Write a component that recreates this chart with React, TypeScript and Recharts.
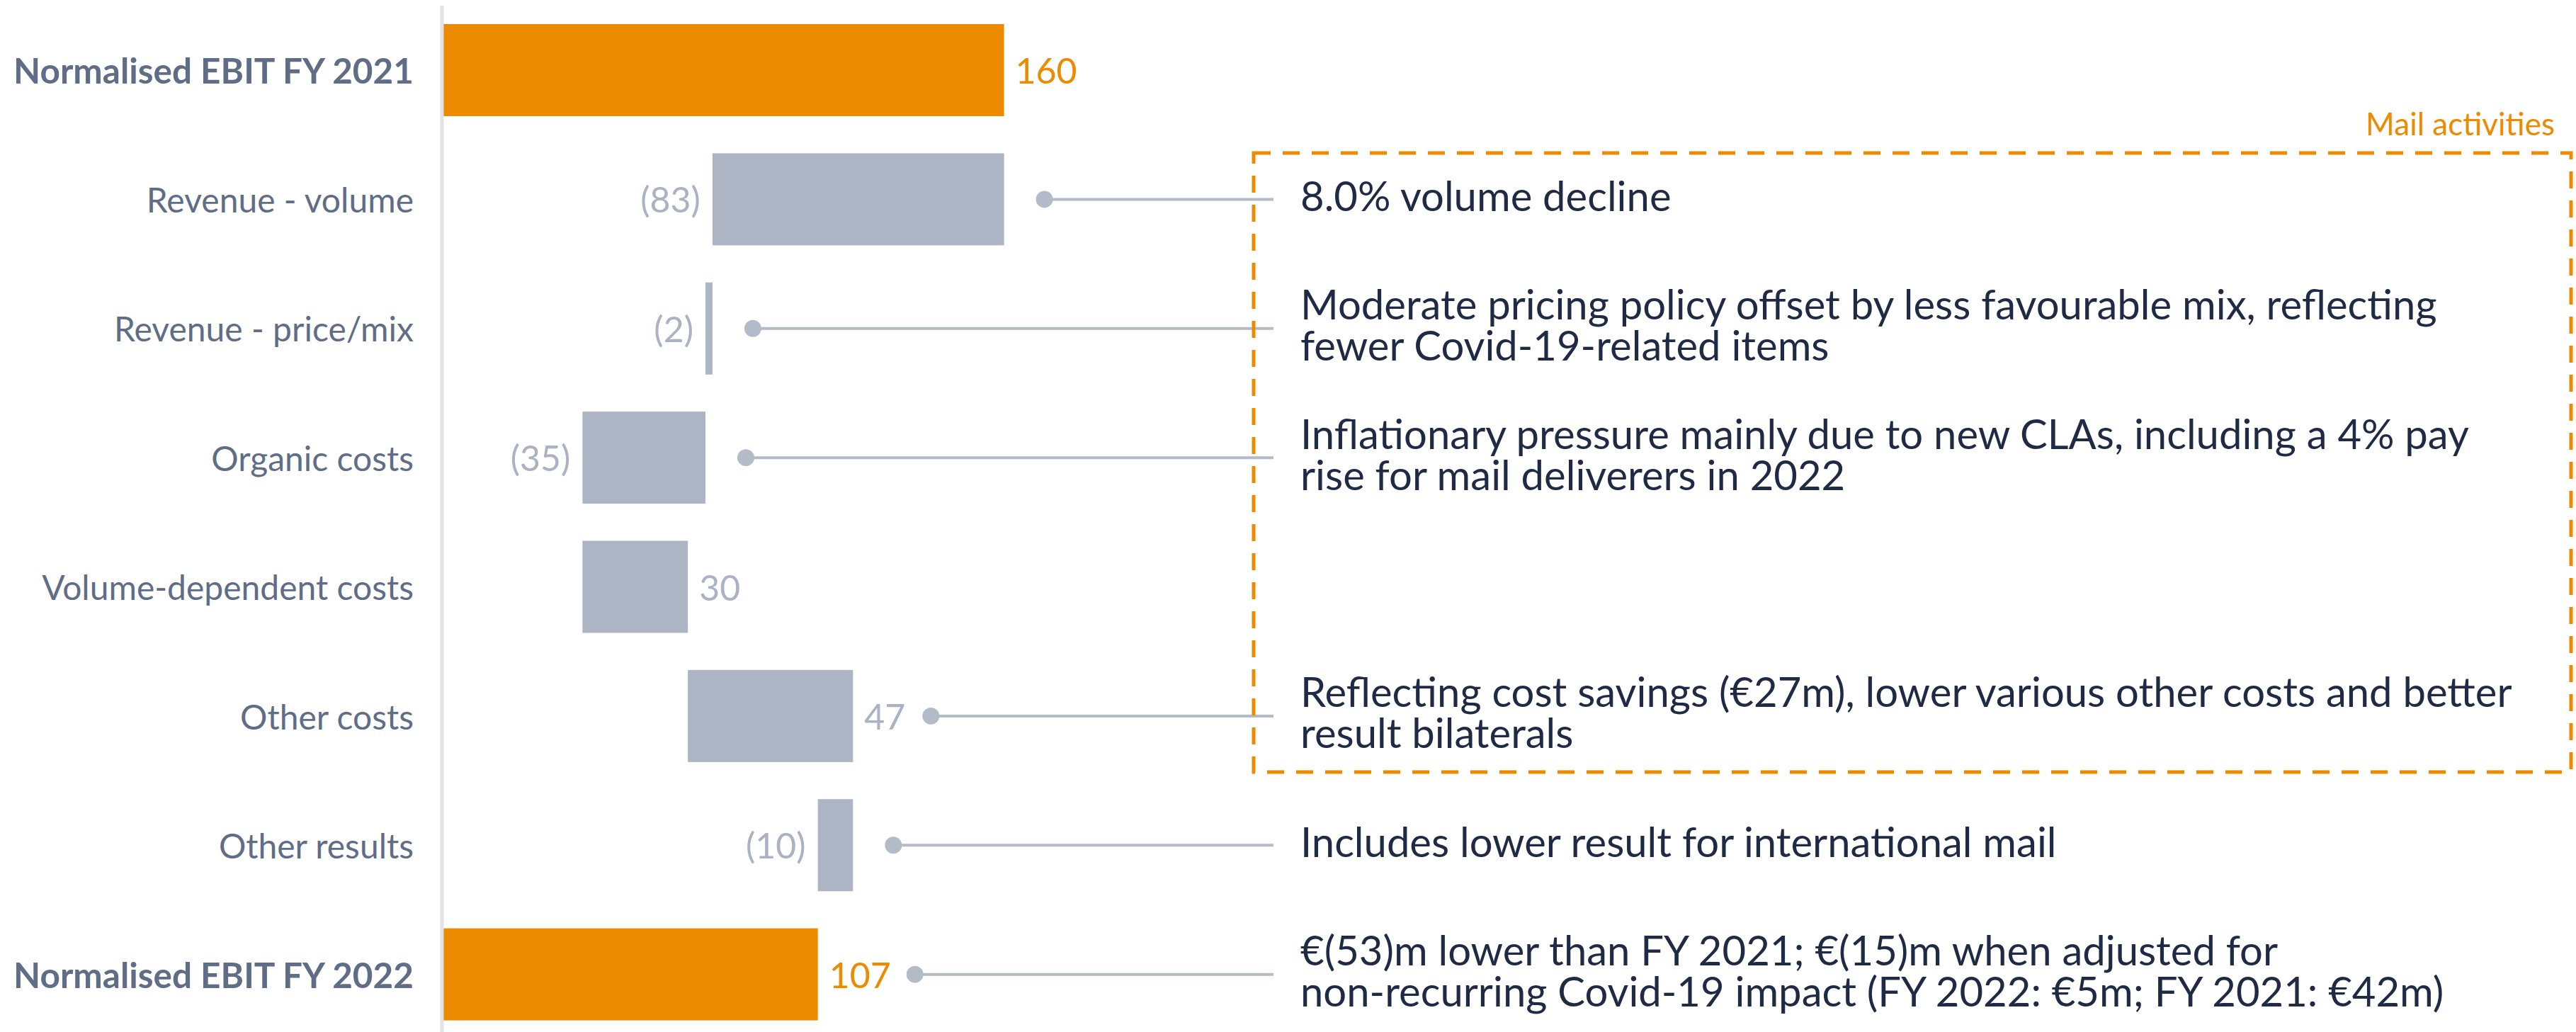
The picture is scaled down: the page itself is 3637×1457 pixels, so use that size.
import { Bar, BarChart, XAxis, YAxis } from "recharts";

const categories = [
  "Normalised EBIT FY 2021",
  "Revenue - volume",
  "Revenue - price/mix",
  "Organic costs",
  "Volume-dependent costs",
  "Other costs",
  "Other results",
  "Normalised EBIT FY 2022",
];
const deltas = [160, -83, -2, -35, 30, 47, -10, 107];
const isTotal = [true, false, false, false, false, false, false, true];
const valueLabels = ["160", "(83)", "(2)", "(35)", "30", "47", "(10)", "107"];
const notes: string[][] = [
  [],
  ["8.0% volume decline"],
  [
    "Moderate pricing policy offset by less favourable mix, reflecting",
    "fewer Covid-19-related items",
  ],
  [
    "Inflationary pressure mainly due to new CLAs, including a 4% pay",
    "rise for mail deliverers in 2022",
  ],
  [],
  [
    "Reflecting cost savings (€27m), lower various other costs and better",
    "result bilaterals",
  ],
  ["Includes lower result for international mail"],
  [
    "€(53)m lower than FY 2021; €(15)m when adjusted for",
    "non-recurring Covid-19 impact (FY 2022: €5m; FY 2021: €42m)",
  ],
];
const boxTitle = "Mail activities";

const ORANGE = "#ec8b00";
const GREY_BAR = "#adb4c4";
const LABEL = "#606d87";
const NOTE = "#1f2a44";
const LINE = "#b3bac8";
const FONT = "Lato, 'Open Sans', sans-serif";

// waterfall rows: invisible base + visible step
let running = 0;
const data = categories.map((name, i) => {
  let base = 0;
  let size = 0;
  if (isTotal[i]) {
    size = deltas[i];
    running = deltas[i];
  } else {
    const end = running + deltas[i];
    base = Math.min(running, end);
    size = Math.abs(deltas[i]);
    running = end;
  }
  return {
    name,
    base,
    size,
    total: isTotal[i],
    negative: deltas[i] < 0,
    label: valueLabels[i],
    note: notes[i],
  };
});

const NOTE_X = 1836;
const LINE_END = 1798;
const NOTE_LH = 58;

const StepShape = (props: any) => {
  const { x, y, width, height, payload } = props;
  const cy = y + height / 2;
  const fill = payload.total ? ORANGE : GREY_BAR;
  const labelColor = payload.total ? ORANGE : "#aab2c3";
  const right = x + width;
  const labelOnLeft = payload.negative;
  const lx = labelOnLeft ? x - 17 : right + 16;
  const dotX = labelOnLeft
    ? right + 57
    : right + 16 + payload.label.length * 27 + 40;
  const lines: string[] = payload.note;
  const firstY = cy - 6 - ((lines.length - 1) * NOTE_LH) / 2;
  return (
    <g>
      <rect x={x} y={y} width={width} height={height} fill={fill} />
      <text
        x={lx}
        y={cy}
        textAnchor={labelOnLeft ? "end" : "start"}
        dominantBaseline="central"
        fill={labelColor}
        fontSize={50}
        fontFamily={FONT}
      >
        {payload.label}
      </text>
      {lines.length > 0 && (
        <g>
          <line
            x1={dotX}
            x2={LINE_END}
            y1={cy}
            y2={cy}
            stroke={LINE}
            strokeWidth={4}
          />
          <circle cx={dotX} cy={cy} r={12} fill={LINE} />
          {lines.map((t, k) => (
            <text
              key={k}
              x={NOTE_X}
              y={firstY + k * NOTE_LH}
              fill={NOTE}
              fontSize={58}
              fontFamily={FONT}
              dominantBaseline="central"
            >
              {t}
            </text>
          ))}
        </g>
      )}
    </g>
  );
};

const CategoryTick = (props: any) => {
  const { x, y, payload, index } = props;
  const bold = isTotal[index];
  return (
    <text
      x={x}
      y={y}
      textAnchor="end"
      dominantBaseline="central"
      fill={LABEL}
      fontSize={bold ? 49.5 : 48}
      fontWeight={bold ? 700 : 400}
      fontFamily={FONT}
    >
      {payload.value}
    </text>
  );
};

export default function App() {
  return (
    <div
      style={{
        position: "fixed",
        left: 0,
        top: 0,
        width: 3637,
        height: 1457,
        overflow: "hidden",
        background: "#fff",
      }}
    >
      <BarChart
        width={3637}
        height={1467}
        data={data}
        layout="vertical"
        margin={{ top: 8, right: 37, bottom: 0, left: 0 }}
      >
        <XAxis type="number" domain={[0, 600]} hide />
        <YAxis
          type="category"
          dataKey="name"
          width={624}
          tickLine={false}
          tickSize={0}
          tickMargin={40}
          axisLine={{ stroke: "#e3e3e7", strokeWidth: 5 }}
          tick={<CategoryTick />}
          interval={0}
        />
        <Bar
          dataKey="base"
          stackId="w"
          fill="transparent"
          barSize={130}
          isAnimationActive={false}
        />
        <Bar
          dataKey="size"
          stackId="w"
          barSize={130}
          shape={<StepShape />}
          isAnimationActive={false}
        />
      </BarChart>
      <svg
        width={3637}
        height={1457}
        style={{ position: "absolute", left: 0, top: 0, pointerEvents: "none" }}
      >
        <rect
          x={1770}
          y={216}
          width={1860}
          height={874}
          fill="none"
          stroke={ORANGE}
          strokeWidth={5}
          strokeDasharray="24 17"
        />
        <text
          x={3607}
          y={174}
          textAnchor="end"
          dominantBaseline="central"
          fill={ORANGE}
          fontSize={44}
          fontFamily={FONT}
        >
          {boxTitle}
        </text>
      </svg>
    </div>
  );
}
